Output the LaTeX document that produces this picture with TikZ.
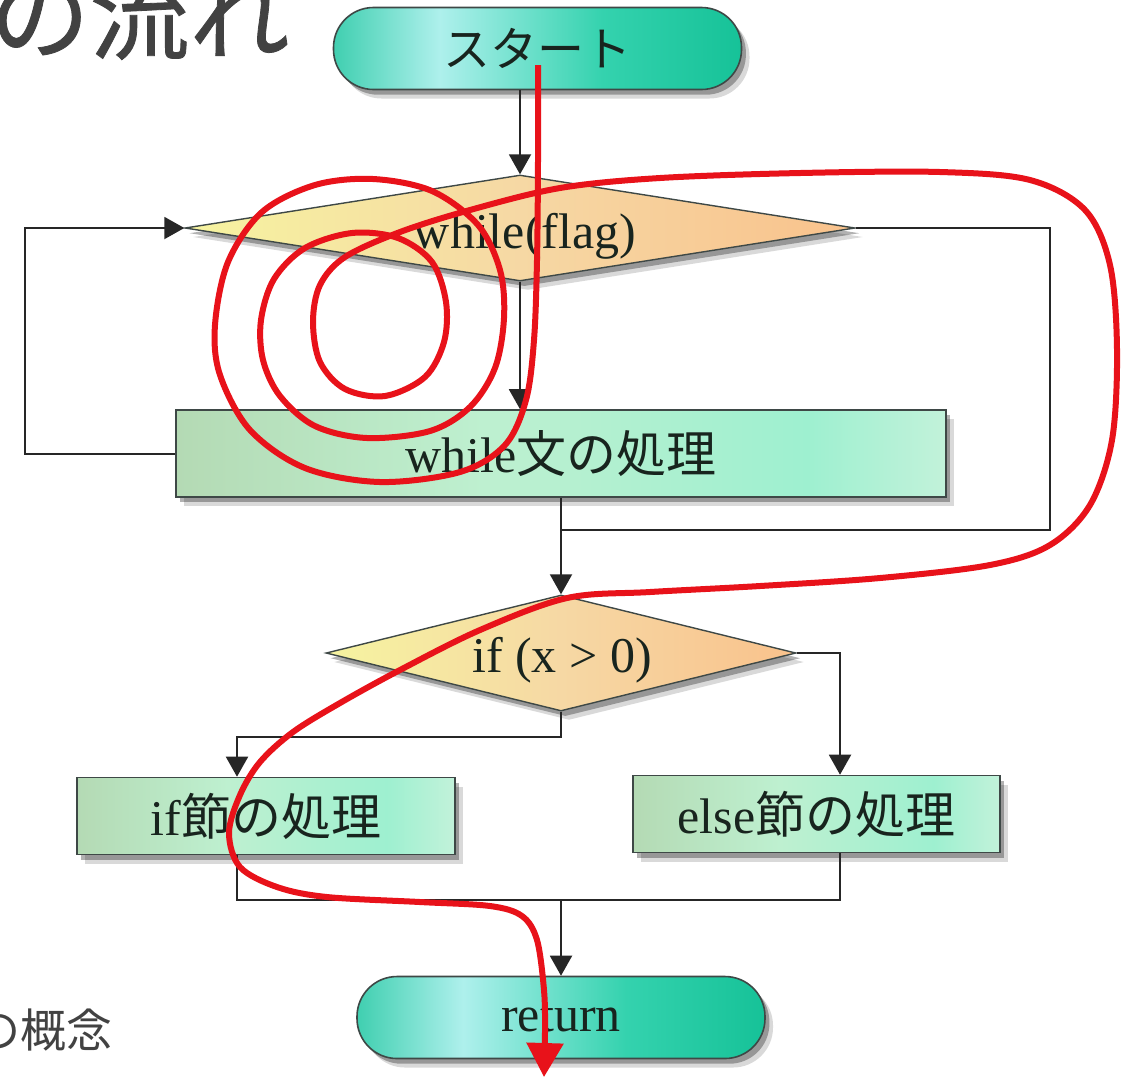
\documentclass[tikz,border=0pt]{standalone}
\usepackage{fontspec}
\setmainfont{Liberation Serif}
\newfontfamily\jp{Noto Sans CJK JP}
\newfontfamily\jpt{Noto Sans CJK JP}[FakeBold=0.8]
\usetikzlibrary{arrows.meta,shadows,shapes.geometric}

\definecolor{bordc}{HTML}{3E4846}
\definecolor{txtc}{HTML}{18241E}
\definecolor{graytxt}{HTML}{424242}
\definecolor{redc}{HTML}{E8121A}
\definecolor{termA}{HTML}{40CFB0}
\definecolor{termB}{HTML}{AEF0EC}
\definecolor{termC}{HTML}{34D2AE}
\definecolor{termD}{HTML}{16C298}
\definecolor{boxA}{HTML}{B4DAB4}
\definecolor{boxB}{HTML}{BEF0D0}
\definecolor{boxC}{HTML}{9EF0D0}
\definecolor{boxD}{HTML}{C2F2DA}
\definecolor{diaA}{HTML}{F6F4A0}
\definecolor{diaB}{HTML}{F6D8A4}
\definecolor{diaC}{HTML}{F9C28C}

\pgfdeclarehorizontalshading{termshade}{100bp}{color(0bp)=(termA); color(25bp)=(termA); color(38bp)=(termB); color(58bp)=(termC); color(75bp)=(termD); color(100bp)=(termD)}
\pgfdeclarehorizontalshading{boxshade}{100bp}{color(0bp)=(boxA); color(25bp)=(boxA); color(45bp)=(boxB); color(66bp)=(boxC); color(75bp)=(boxD); color(100bp)=(boxD)}
\pgfdeclarehorizontalshading{diashade}{100bp}{color(0bp)=(diaA); color(25bp)=(diaA); color(50bp)=(diaB); color(75bp)=(diaC); color(100bp)=(diaC)}

\begin{document}
\begin{tikzpicture}[x=0.5pt,y=-0.5pt,
  shad/.style={drop shadow={shadow xshift=4pt, shadow yshift=-4.5pt, opacity=0.15, fill=black},
               drop shadow={shadow xshift=2.2pt, shadow yshift=-2.6pt, opacity=0.3, fill=black}},
  termnode/.style={shad, draw=bordc, line width=0.8pt, shading=termshade,
    rounded corners=20pt, minimum width=204pt, minimum height=41pt, inner sep=0pt,
    text=txtc},
  procbox/.style={shad, draw=bordc, line width=0.8pt, shading=boxshade,
    inner sep=0pt, text=txtc, font=\fontsize{25}{30}\selectfont},
  decision/.style={shad, shape=diamond, draw=bordc, line width=0.7pt, shading=diashade,
    inner sep=0pt},
  dtext/.style={inner sep=0pt, text=txtc, font=\fontsize{25}{30}\selectfont},
  conn/.style={draw=black!85, line width=1pt},
  arr/.style={conn, -{Triangle[length=10pt,width=11pt]}},
  redline/.style={draw=redc, line width=3pt, line cap=butt, line join=round},
  graylabel/.style={inner sep=0pt, text=graytxt}
]
\useasboundingbox (0,0) rectangle (1122,1078);
\fill[white] (0,0) rectangle (1122,1078);

% headings (partially cut off, as in the reference)
\node[graylabel, anchor=base east, font=\jpt\fontsize{50}{55}\selectfont] (title) at (290,52) {の流れ};
\node[graylabel, anchor=base east, font=\jp\fontsize{23}{26}\selectfont] (concept) at (113,1047) {の概念};

% nodes
\node[termnode, font=\jp\fontsize{23.5}{26}\selectfont] (start) at (537.5,48.5) {スタート};
\node[decision, minimum width=335pt, minimum height=53pt] (whiled) at (520,228) {};
\node[dtext] (whilet) at (525,236) {while(flag)};
\node[procbox, minimum width=385pt, minimum height=43.5pt] (whilebox) at (561,453.5) {while{\jp 文の処理}};
\node[decision, minimum width=235pt, minimum height=58pt] (ifd) at (561,653) {};
\node[dtext] (ift) at (562,660) {if (x > 0)};
\node[procbox, minimum width=189pt, minimum height=38.5pt] (ifbox) at (266,816) {if{\jp 節の処理}};
\node[procbox, minimum width=183.5pt, minimum height=38.5pt] (elsebox) at (816.5,814) {else{\jp 節の処理}};
\node[termnode, font=\fontsize{25}{30}\selectfont] (ret) at (561,1017.5) {return};

% junction coordinates
\coordinate (lp) at (25,0);
\coordinate (rp) at (1050,0);
\coordinate (jn) at (561,530);
\coordinate (ifj) at (237,737);
\coordinate (ej) at (840,0);
\coordinate (mj) at (561,900);

% connectors
\draw[arr] (whiled.north |- start.south) -- (whiled.north);
\draw[arr] (whiled.south) -- (whiled.south |- whilebox.north);
\draw[arr] (whilebox.west) -- (whilebox.west -| lp) |- (whiled.west);
\draw[conn] (whiled.east) -- (whiled.east -| rp) |- (jn);
\draw[arr] (whilebox.south) -- (ifd.north);
\draw[arr] (ifd.south) |- (ifj) -- (ifj |- ifbox.north);
\draw[arr] (ifd.east) -| (ej |- elsebox.north);
\draw[conn] (ifbox.south -| ifj) |- (mj) -| (elsebox.south -| ej);
\draw[arr] (mj) -- (ret.north);

% red trace
\draw[redline, -{Triangle[length=17pt,width=18pt]}] plot[smooth, tension=0.55] coordinates {
 (538,65) (538,160) (537,260) (534,340) (526,400) (505,445) (460,472) (380,482)
 (305,468) (250,430) (220,375) (215,325) (228,262) (262,212) (315,185) (373,179)
 (432,191) (478,225) (500,270) (504,318) (495,368) (470,407) (430,431) (367,438)
 (315,426) (280,396) (263,360) (261,320) (274,279) (305,248) (352,233) (398,238)
 (432,262) (446,302) (444,342) (425,377) (385,396) (345,389) (320,362) (313,322)
 (320,285) (345,257) (400,232) (470,210) (560,188) (660,178) (800,173) (940,172)
 (1030,180) (1085,210) (1110,265) (1117,350) (1112,440) (1090,505) (1050,545)
 (990,565) (880,578) (760,586) (650,592) (567,598) (480,630) (400,670) (340,703)
 (293,732) (260,762) (240,795) (229,833) (240,867) (277,887) (327,897) (420,902)
 (490,906) (522,916) (537,940) (544,990) (545,1030) (544,1077)};
\end{tikzpicture}
\end{document}
